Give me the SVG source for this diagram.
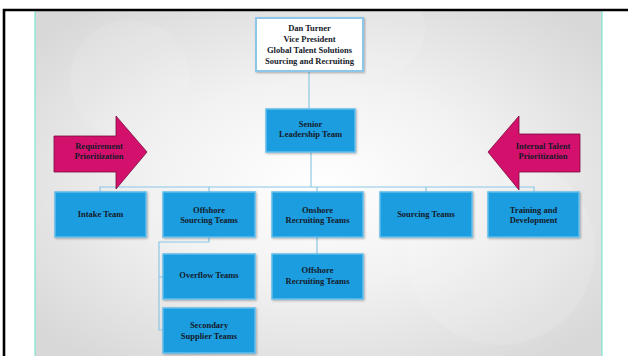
<svg xmlns="http://www.w3.org/2000/svg" width="628" height="356" viewBox="0 0 628 356">
  <defs>
    <radialGradient id="bg" cx="0.5" cy="0.5" r="0.65">
      <stop offset="0" stop-color="#ffffff"/>
      <stop offset="0.45" stop-color="#f2f2f2"/>
      <stop offset="1" stop-color="#d8d8d8"/>
    </radialGradient>
    <filter id="sh" x="-10%" y="-10%" width="130%" height="130%">
      <feDropShadow dx="1" dy="1" stdDeviation="0.8" flood-color="#000" flood-opacity="0.3"/>
    </filter>
    <style>
      .box{fill:#1d9de0;stroke:#62bdec;stroke-width:1.5;filter:url(#sh)}
      .top{fill:#ffffff;stroke:#8cc7ea;stroke-width:2;filter:url(#sh)}
      .arrow{fill:#d3106b;stroke:#7a0a3c;stroke-width:0.8}
      .t{font-family:"Liberation Serif","Times New Roman",serif;font-weight:bold;font-size:8.5px;fill:#141a2a;text-anchor:middle}
      .c{fill:none;stroke:#8cc6e6;stroke-width:1.2}
    </style>
  </defs>
  <rect x="0" y="0" width="628" height="356" fill="#ffffff"/>
  <rect x="35" y="11" width="567" height="345" fill="url(#bg)"/>
  <circle cx="500" cy="250" r="95" fill="#ffffff" opacity="0.12"/>
  <circle cx="130" cy="80" r="60" fill="#ffffff" opacity="0.1"/>
  <circle cx="380" cy="30" r="45" fill="#ffffff" opacity="0.1"/>
  <line x1="35" y1="11" x2="35" y2="356" stroke="#7ee6d2" stroke-width="1.2"/>
  <line x1="602" y1="11" x2="602" y2="356" stroke="#7ee6d2" stroke-width="1.2"/>
  <path d="M4 356 V10 H628" fill="none" stroke="#000" stroke-width="2.6"/>

  <g id="connectors">
    <path class="c" d="M309 71 V108"/>
    <path class="c" d="M311 152 V187"/>
    <path class="c" d="M100 192 V187 H534 V192"/>
    <path class="c" d="M209 187 V192"/>
    <path class="c" d="M317 187 V192"/>
    <path class="c" d="M426 187 V192"/>
    <path class="c" d="M209 237 V242 H159 V330 H163"/>
    <path class="c" d="M159 277 H163"/>
    <path class="c" d="M317 237 V254"/>
  </g>

  <g id="arrow-left">
    <path class="arrow" d="M54 136 H116 V116 L147 152 L116 189 V172 H54 Z"/>
    <text class="t" x="99" y="149">Requirement</text>
    <text class="t" x="99" y="159">Prioritization</text>
  </g>
  <g id="arrow-right">
    <path class="arrow" d="M580 134 H519 V116 L488 152 L519 190 V172 H580 Z"/>
    <text class="t" x="543" y="149">Internal Talent</text>
    <text class="t" x="543" y="159">Prioritization</text>
  </g>

  <g id="n-vp">
    <rect class="top" x="256" y="18" width="107" height="53"/>
    <text class="t" x="309.5" y="31">Dan Turner</text>
    <text class="t" x="309.5" y="42">Vice President</text>
    <text class="t" x="309.5" y="53">Global Talent Solutions</text>
    <text class="t" x="309.5" y="64">Sourcing and Recruiting</text>
  </g>
  <g id="n-senior">
    <rect class="box" x="266" y="109" width="89" height="43"/>
    <text class="t" x="310.5" y="127">Senior</text>
    <text class="t" x="310.5" y="137">Leadership Team</text>
  </g>
  <g id="n-intake">
    <rect class="box" x="55" y="192" width="91" height="45"/>
    <text class="t" x="100.5" y="217">Intake Team</text>
  </g>
  <g id="n-offshore-sourcing">
    <rect class="box" x="163" y="192" width="92" height="45"/>
    <text class="t" x="209" y="213">Offshore</text>
    <text class="t" x="209" y="223">Sourcing Teams</text>
  </g>
  <g id="n-onshore">
    <rect class="box" x="272" y="192" width="91" height="45"/>
    <text class="t" x="317.5" y="213">Onshore</text>
    <text class="t" x="317.5" y="223">Recruiting Teams</text>
  </g>
  <g id="n-sourcing">
    <rect class="box" x="380" y="192" width="92" height="45"/>
    <text class="t" x="426" y="217">Sourcing Teams</text>
  </g>
  <g id="n-training">
    <rect class="box" x="488" y="192" width="91" height="45"/>
    <text class="t" x="533.5" y="213">Training and</text>
    <text class="t" x="533.5" y="223">Development</text>
  </g>
  <g id="n-overflow">
    <rect class="box" x="163" y="254" width="92" height="45"/>
    <text class="t" x="209" y="278">Overflow Teams</text>
  </g>
  <g id="n-offshore-recruiting">
    <rect class="box" x="272" y="254" width="91" height="45"/>
    <text class="t" x="317.5" y="273">Offshore</text>
    <text class="t" x="317.5" y="284">Recruiting Teams</text>
  </g>
  <g id="n-secondary">
    <rect class="box" x="163" y="308" width="92" height="45"/>
    <text class="t" x="209" y="328">Secondary</text>
    <text class="t" x="209" y="339">Supplier Teams</text>
  </g>
</svg>
